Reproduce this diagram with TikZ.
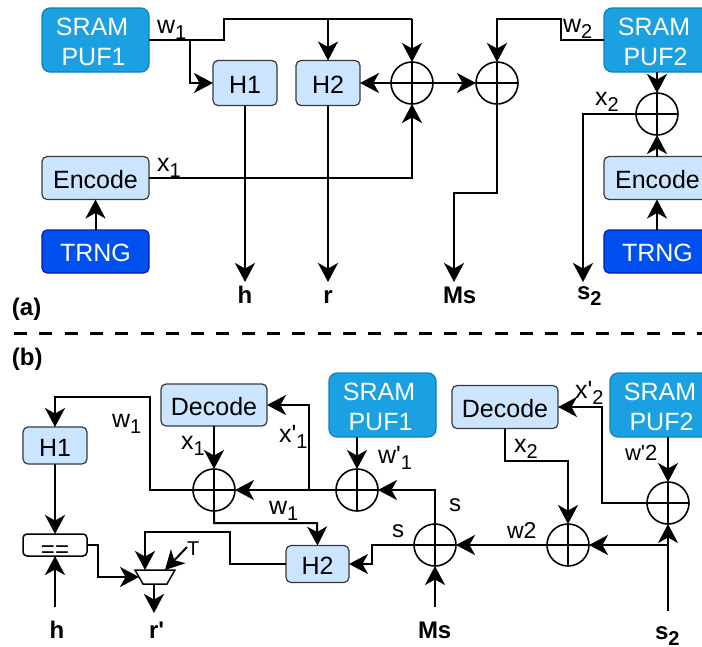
\documentclass[tikz,border=0pt]{standalone}
\usepackage{fontspec}
\setmainfont{Liberation Sans}
\usetikzlibrary{arrows.meta}
\newcommand{\lowsub}[1]{\raisebox{-0.25em}{\fontsize{20}{20}\selectfont #1}}
\newcommand{\tstrut}{\rule{0pt}{21pt}}
\newcommand{\pr}{\textquotesingle}
\tikzset{
  every node/.style={inner sep=0pt,outer sep=0pt,font=\fontsize{25}{30.5}\selectfont},
  box/.style={draw,rounded corners=5pt,line width=1.2pt,align=center},
  puf/.style={box,fill=pufblue,draw=pufedge,text=white,minimum width=107pt,minimum height=64pt,rounded corners=8pt},
  lite/.style={box,fill=liteblue,draw=liteedge},
  trng/.style={box,fill=trngblue,draw=trngedge,text=white,minimum width=107pt,minimum height=43pt},
  xorgate/.style={circle,draw,line width=1.6pt,minimum size=42pt,
    path picture={\draw[line width=1.6pt] (path picture bounding box.north)--(path picture bounding box.south)
      (path picture bounding box.west)--(path picture bounding box.east);}},
  wire/.style={line width=2pt,-{Stealth[length=19pt,width=20pt,inset=5.5pt]}},
  plain/.style={line width=2pt},
  lab/.style={anchor=base west},
  blab/.style={anchor=base west,font=\fontsize{24}{28}\selectfont\bfseries},
  clab/.style={anchor=base,font=\fontsize{24}{28}\selectfont\bfseries},
}
\definecolor{pufblue}{HTML}{1BA1E2}
\definecolor{pufedge}{HTML}{0E80BE}
\definecolor{liteblue}{HTML}{CCE5FF}
\definecolor{liteedge}{HTML}{36393D}
\definecolor{trngblue}{HTML}{0050EF}
\definecolor{trngedge}{HTML}{001DBC}
\begin{document}
\begin{tikzpicture}[x=1pt,y=-1pt]
\clip (0,0) rectangle (702,646);
% ---- part (a)
\node[puf] (pufA) at (95.5,40) {\tstrut SRAM\kern7pt\\PUF1\kern4pt};
\node[lite,minimum width=64pt,minimum height=45pt] (h1A) at (245,83) {\tstrut H1};
\node[lite,minimum width=64pt,minimum height=45pt] (h2A) at (328,83) {\tstrut H2};
\node[lite,minimum width=107pt,minimum height=43pt] (encA) at (95.5,178) {\tstrut Encode};
\node[trng] (trngA) at (95.5,251.5) {\tstrut TRNG};
\node[xorgate] (x1A) at (412,83) {};
\node[xorgate] (x2A) at (497,83) {};
\node[xorgate] (x3A) at (657,114) {};
\node[puf] (pufB) at (657.5,40) {\tstrut SRAM\kern7pt\\PUF2\kern4pt};
\node[lite,minimum width=107pt,minimum height=43pt] (encB) at (657.5,178) {\tstrut Encode};
\node[trng] (trngB) at (657.5,251.5) {\tstrut TRNG};
\coordinate (hA) at (245,282);
\coordinate (rA) at (328,282);
\coordinate (msA) at (454,282);
\coordinate (sA) at (583,282);
\coordinate (tapA) at (190,40);
\coordinate (topA) at (224,19);
\draw[plain] (pufA.east) -- (tapA) -- (224,40) -- (topA) -- (412,19);
\draw[wire] (328,19) -- (h2A.north);
\draw[wire] (412,19) -- (x1A.north);
\draw[wire] (tapA) |- (h1A.west);
\draw[wire] (x1A.west) -- (h2A.east);
\draw[wire] (x1A.east) -- (x2A.west);
\draw[wire] (encA.east) -| (x1A.south);
\draw[wire] (trngA.north) -- (encA.south);
\draw[wire] (h1A.south) -- (hA);
\draw[wire] (h2A.south) -- (rA);
\draw[wire] (x2A.south) |- (454,193) -- (msA);
\draw[wire] (pufB.west) -- (561,40) -- (561,19) -| (x2A.north);
\draw[wire] (x3A.north |- pufB.south) -- (x3A.north);
\draw[wire] (x3A.south |- encB.north) -- (x3A.south);
\draw[wire] (x3A.south |- trngB.north) -- (x3A.south |- encB.south);
\draw[wire] (x3A.west) -| (sA);
\node[lab] (lw1A) at (157,33) {w\lowsub{1}};
\node[lab] (lx1A) at (157,171) {x\lowsub{1}};
\node[lab] (lw2A) at (563,32) {w\lowsub{2}};
\node[lab] (lx2A) at (595,105) {x\lowsub{2}};
\node[clab] (thA) at (245,303) {h};
\node[clab] (trA) at (328,303) {r};
\node[blab] (tmA) at (443,303) {Ms};
\node[blab] (tsA) at (577,299) {s\lowsub{\bfseries 2}};
\node[blab] (ta) at (12,315) {(a)};
% ---- separator
\coordinate (sepL) at (14,333);
\coordinate (sepR) at (702,333);
\draw[line width=3pt,dash pattern=on 13pt off 12.3pt] (sepL) -- (sepR);
\node[blab] (tb) at (12,365) {(b)};
% ---- part (b)
\node[lite,minimum width=106pt,minimum height=42pt] (dec1) at (214,405) {\tstrut Decode};
\node[lite,minimum width=64pt,minimum height=37pt] (h1b) at (55,445.5) {\tstrut H1};
\node[lite,minimum width=63pt,minimum height=37pt] (h2b) at (317.5,564) {\tstrut H2};
\node[puf] (puf1b) at (382.5,405) {\tstrut SRAM\kern7pt\\PUF1\kern4pt};
\node[lite,minimum width=106pt,minimum height=43pt] (dec2) at (505,407) {\tstrut Decode};
\node[puf] (puf2b) at (663.5,405) {\tstrut SRAM\kern7pt\\PUF2\kern4pt};
\node[xorgate] (xa) at (214,490) {};
\node[xorgate] (xb) at (357,490) {};
\node[xorgate] (xc) at (435,545) {};
\node[xorgate] (xd) at (568,545) {};
\node[xorgate] (xe) at (668,503) {};
\node[draw,rounded corners=4pt,line width=1.5pt,fill=white,minimum width=64pt,minimum height=22pt] (cmp) at (55,545) {};
\node[anchor=base,font=\fontsize{24}{24}\selectfont] (eqs) at (55,557) {==};
\draw[line width=1.5pt,fill=white] (135,570) -- (175,570) -- (167,584) -- (143,584) -- cycle;
\coordinate (muxL) at (139,577);
\coordinate (muxTopA) at (145,570);
\coordinate (muxTopB) at (165,570);
\coordinate (muxBot) at (154,584);
\coordinate (rout) at (154,613);
\coordinate (tIn) at (187,547);
\coordinate (hIn) at (55,607);
\coordinate (msIn) at (435,607);
\coordinate (sIn) at (668,611);
\draw[wire] (dec1.south) -- (xa.north);
\draw[wire] (xa.west) -- (150,490) -- (150,397) -- (55,397) -- (h1b.north);
\draw[wire] (xb.west) -- (xa.east);
\draw[wire] (309,490) -- (309,405) -- (dec1.east);
\draw[wire] (xb.north |- puf1b.south) -- (xb.north);
\draw[wire] (xc.north) -- (435,490) -- (xb.east);
\draw[wire] (xd.west) -- (xc.east);
\draw[wire] (xc.west) -- (372,545) -- (372,564) -- (h2b.east);
\draw[wire] (msIn) -- (xc.south);
\draw[wire] (505,429) -- (505,461) -- (568,461) -- (xd.north);
\draw[wire] (xe.north |- puf2b.south) -- (xe.north);
\draw[wire] (xe.west) -- (602,503) -- (602,407) -- (dec2.east);
\draw[wire] (sIn) -- (xe.south);
\draw[wire] (668,545) -- (xd.east);
\draw[wire] (xa.south) -- (214,523) -- (317,523) -- (h2b.north);
\draw[wire] (h1b.south) -- (cmp.north);
\draw[wire] (hIn) -- (cmp.south);
\draw[wire] (cmp.east) -- (98,545) -- (98,577) -- (muxL);
\draw[wire] (h2b.west) -- (230,564) -- (230,532) -- (145,532) -- (muxTopA);
\draw[wire] (tIn) -- (muxTopB);
\draw[wire] (muxBot) -- (rout);
\node[lab] (lw1b) at (112,427) {w\lowsub{1}};
\node[lab] (lx1b) at (181,449) {x\lowsub{1}};
\node[lab] (lxp1) at (279,442) {x\pr\lowsub{1}};
\node[lab] (lw1c) at (269,514) {w\lowsub{1}};
\node[lab] (lwp1) at (378,463) {w\pr\lowsub{1}};
\node[lab,font=\fontsize{24}{28}\selectfont] (ls1) at (449,511) {s};
\node[lab,font=\fontsize{24}{28}\selectfont] (ls2) at (392,537) {s};
\node[lab,font=\fontsize{23}{28}\selectfont] (lw2b) at (507,538) {w2};
\node[lab] (lx2b) at (514,452) {x\lowsub{2}};
\node[lab] (lxp2) at (575,398) {x\pr\lowsub{2}};
\node[lab,font=\fontsize{22}{28}\selectfont] (lwp2) at (625,460) {w\pr2};
\node[lab,font=\fontsize{20}{24}\selectfont] (lT) at (187,555) {T};
\node[clab] (thb) at (57,638) {h};
\node[blab] (trb) at (149,638) {r\pr};
\node[blab] (tmb) at (418,638) {Ms};
\node[blab] (tsb) at (655,639) {s\lowsub{\bfseries 2}};
\end{tikzpicture}
\end{document}
